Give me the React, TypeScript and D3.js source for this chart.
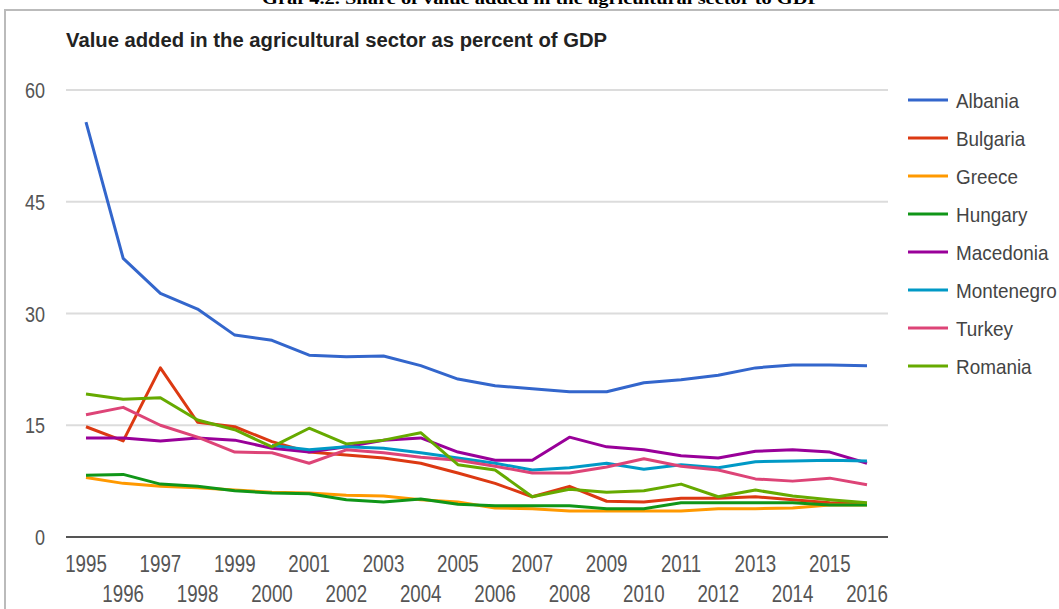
import React from "react";
import * as d3 from "d3";

const years = [1995,1996,1997,1998,1999,2000,2001,2002,2003,2004,2005,2006,2007,2008,2009,2010,2011,2012,2013,2014,2015,2016];

const albania = [55.7,37.4,32.7,30.6,27.1,26.4,24.4,24.2,24.3,23.0,21.2,20.3,19.9,19.5,19.5,20.7,21.1,21.7,22.7,23.1,23.1,23.0];
const bulgaria = [14.8,12.9,22.7,15.4,14.8,12.8,11.4,11.0,10.6,9.9,8.6,7.2,5.4,6.8,4.8,4.7,5.2,5.2,5.4,5.0,4.6,4.4];
const greece = [8.0,7.2,6.8,6.6,6.3,6.0,5.9,5.6,5.5,5.0,4.7,3.9,3.8,3.5,3.5,3.5,3.5,3.8,3.8,3.9,4.3,4.3];
const hungary = [8.3,8.4,7.1,6.8,6.2,5.9,5.8,5.0,4.7,5.1,4.4,4.2,4.2,4.2,3.8,3.8,4.6,4.6,4.6,4.6,4.3,4.3];
const macedonia = [13.3,13.3,12.9,13.3,13.0,11.9,11.4,12.1,13.0,13.3,11.4,10.3,10.3,13.4,12.1,11.7,10.9,10.6,11.5,11.7,11.4,9.9];
const montenegro = [null,null,null,null,null,12.3,11.7,12.1,11.9,11.3,10.6,9.9,9.0,9.3,9.9,9.1,9.7,9.3,10.1,10.2,10.3,10.2];
const turkey = [16.4,17.4,15.0,13.4,11.4,11.3,9.9,11.7,11.3,10.7,10.3,9.5,8.6,8.6,9.4,10.5,9.5,9.0,7.8,7.5,7.9,7.0];
const romania = [19.2,18.5,18.7,15.7,14.4,12.1,14.6,12.5,13.0,14.0,9.7,9.0,5.4,6.4,6.0,6.2,7.1,5.4,6.3,5.5,5.0,4.6];

const seriesNames = ["Albania","Bulgaria","Greece","Hungary","Macedonia","Montenegro","Turkey","Romania"];
const seriesValues = [albania,bulgaria,greece,hungary,macedonia,montenegro,turkey,romania];
const seriesColors = ["#3366cc","#dc3912","#ff9900","#109618","#990099","#0099c6","#dd4477","#66aa00"];
const yTicks = [0,15,30,45,60];

export default function App() {
  const x = d3.scaleLinear().domain([1995, 2016]).range([86, 867]);
  const y = d3.scaleLinear().domain([0, 60]).range([537, 90]);
  const line = d3
    .line<number | null>()
    .defined((d) => d != null)
    .x((_, i) => x(years[i]))
    .y((d) => y(d as number));

  const font = "'Liberation Sans', Arial, sans-serif";
  const legendY = d3.scaleLinear().domain([0, 1]).range([100, 138]);

  return (
    <svg
      width={1059}
      height={609}
      style={{ position: "absolute", left: 0, top: 0, background: "#fff" }}
    >
      <rect x={0} y={0} width={1059} height={609} fill="#fff" />
      <text
        x={541}
        y={4}
        textAnchor="middle"
        fontFamily="'Liberation Serif', 'Times New Roman', serif"
        fontWeight="bold"
        fontSize={16}
        fill="#000"
        textLength={558}
        lengthAdjust="spacingAndGlyphs"
      >
        Graf 4.2. Share of value added in the agricultural sector to GDP
      </text>
      <path d="M5,609 V10 H1059" fill="none" stroke="#bbb" strokeWidth={2} />
      <text
        x={66}
        y={47}
        fontFamily={font}
        fontSize={20}
        fontWeight="bold"
        fill="#222"
        textLength={541}
        lengthAdjust="spacingAndGlyphs"
      >
        Value added in the agricultural sector as percent of GDP
      </text>

      {yTicks.map((t) => (
        <g key={t}>
          {t !== 0 && (
            <line x1={66} x2={888} y1={y(t)} y2={y(t)} stroke="#dcdcdc" strokeWidth={2} />
          )}
          <text
            transform={`translate(45,${y(t) + 8}) scale(0.82,1)`}
            textAnchor="end"
            fontFamily={font}
            fontSize={22}
            fill="#555"
          >
            {t}
          </text>
        </g>
      ))}

      {seriesValues.map((vals, i) => (
        <path
          key={seriesNames[i]}
          d={line(vals) || ""}
          fill="none"
          stroke={seriesColors[i]}
          strokeWidth={3}
          strokeLinejoin="round"
        />
      ))}

      <line x1={66} x2={888} y1={y(0)} y2={y(0)} stroke="#555" strokeWidth={2} />

      {years.map((yr, i) => (
        <text
          key={yr}
          transform={`translate(${x(yr)},${i % 2 === 0 ? 572 : 602}) scale(0.78,1)`}
          textAnchor="middle"
          fontFamily={font}
          fontSize={24}
          fill="#555"
        >
          {yr}
        </text>
      ))}

      {seriesNames.map((name, i) => (
        <g key={name}>
          <line
            x1={908}
            x2={948}
            y1={legendY(i)}
            y2={legendY(i)}
            stroke={seriesColors[i]}
            strokeWidth={3}
          />
          <text
            transform={`translate(956,${legendY(i) + 8}) scale(0.9,1)`}
            fontFamily={font}
            fontSize={21}
            fill="#444"
          >
            {name}
          </text>
        </g>
      ))}
    </svg>
  );
}
